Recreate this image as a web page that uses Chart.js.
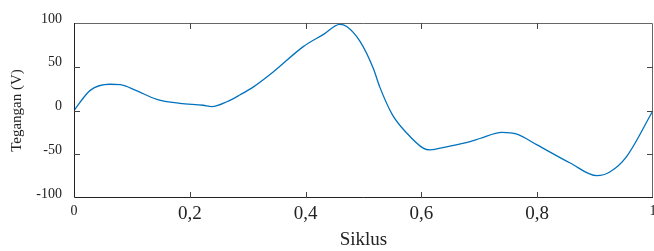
<!DOCTYPE html>
<html>
<head>
<meta charset="utf-8">
<script src="https://cdn.jsdelivr.net/npm/chart.js@4/dist/chart.umd.min.js"></script>
<style>
  html, body { margin: 0; padding: 0; background: #fff; }
  #wrap { width: 654px; height: 251px; }
</style>
</head>
<body>
<div id="wrap"><canvas id="grafik"></canvas></div>
<script>
// Tegangan terhadap siklus
const siklus = [0, 0.028, 0.062, 0.08, 0.108, 0.143, 0.183, 0.223, 0.238, 0.264,
  0.287, 0.31, 0.344, 0.396, 0.431, 0.459, 0.471, 0.494, 0.517, 0.528,
  0.55, 0.575, 0.603, 0.615, 0.643, 0.684, 0.701, 0.739, 0.765, 0.799,
  0.857, 0.903, 0.926, 0.954, 1];
const tegangan = [0, 23, 30, 29.5, 22.6, 12.8, 8.2, 6, 4.5, 10,
  18, 27, 44, 73, 87, 98.5, 96, 79, 48, 27,
  -5, -26, -43, -45, -41.5, -35.5, -32, -25, -27, -39,
  -60, -74.5, -70, -53, 0];
const yTicks = [100, 50, 0, -50, -100];
const xTicks = [0, 0.2, 0.4, 0.6, 0.8, 1];

const FONT = '"Liberation Serif", "Times New Roman", serif';

// bingkai + tick ke dalam
const bingkai = {
  id: 'bingkai',
  afterDraw(chart) {
    const { ctx, chartArea: a, scales } = chart;
    ctx.save();
    ctx.lineWidth = 1;
    ctx.strokeStyle = '#666';
    ctx.beginPath();
    ctx.moveTo(a.left, a.top + 0.5); ctx.lineTo(a.right - 0.5, a.top + 0.5); ctx.lineTo(a.right - 0.5, a.bottom);
    ctx.stroke();
    ctx.strokeStyle = '#222';
    ctx.beginPath();
    ctx.moveTo(a.left + 0.5, a.top); ctx.lineTo(a.left + 0.5, a.bottom - 0.5); ctx.lineTo(a.right, a.bottom - 0.5);
    ctx.stroke();
    const tl = 6;
    ctx.strokeStyle = '#444';
    ctx.beginPath();
    scales.x.ticks.forEach(t => {
      if (t.value <= 0 || t.value >= 1) return;
      const px = Math.round(scales.x.getPixelForValue(t.value)) + 0.5;
      ctx.moveTo(px, a.bottom); ctx.lineTo(px, a.bottom - tl);
      ctx.moveTo(px, a.top); ctx.lineTo(px, a.top + tl);
    });
    scales.y.ticks.forEach(t => {
      if (t.value <= -100 || t.value >= 100) return;
      const py = Math.round(scales.y.getPixelForValue(t.value)) + 0.5;
      ctx.moveTo(a.left, py); ctx.lineTo(a.left + tl, py);
      ctx.moveTo(a.right, py); ctx.lineTo(a.right - tl, py);
    });
    ctx.stroke();
    ctx.restore();
  }
};

new Chart(document.getElementById('grafik'), {
  type: 'line',
  data: {
    datasets: [{
      data: siklus.map((s, i) => ({ x: s, y: tegangan[i] })),
      borderColor: '#0072BD',
      borderWidth: 1.3,
      pointRadius: 0,
      cubicInterpolationMode: 'monotone',
      fill: false
    }]
  },
  options: {
    responsive: true,
    maintainAspectRatio: false,
    animation: false,
    events: [],
    layout: { padding: { top: 23, right: 1, left: 0, bottom: 0 } },
    plugins: { legend: { display: false }, tooltip: { enabled: false } },
    scales: {
      x: {
        type: 'linear',
        min: 0, max: 1,
        grid: { display: false, drawTicks: false },
        border: { display: false },
        afterBuildTicks(s) { s.ticks = xTicks.map(v => ({ value: v })); },
        afterFit(s) { s.height = 53; s.paddingLeft = 0; s.paddingRight = 0; },
        ticks: {
          padding: 5,
          maxRotation: 0,
          color: '#222',
          font: c => (c.tick && (c.tick.value === 0 || c.tick.value === 1))
            ? { family: FONT, size: 14 } : { family: FONT, size: 19 },
          callback: v => (v === 0 || v === 1) ? String(v) : v.toFixed(1).replace('.', ',')
        },
        title: {
          display: true, text: 'Siklus', color: '#222',
          font: { family: FONT, size: 19 }, padding: { top: 0, bottom: 0 }
        }
      },
      y: {
        min: -100, max: 100,
        grid: { display: false, drawTicks: false },
        border: { display: false },
        afterBuildTicks(s) { s.ticks = yTicks.map(v => ({ value: v })); },
        afterFit(s) { s.width = 74; s.paddingTop = 0; s.paddingBottom = 0; },
        ticks: {
          padding: 12,
          labelOffset: -4,
          color: '#222',
          font: { family: FONT, size: 14 }
        },
        title: {
          display: true, text: 'Tegangan (V)', color: '#222',
          font: { family: FONT, size: 15 }, padding: { top: 8, bottom: 0 }
        }
      }
    }
  },
  plugins: [bingkai]
});
</script>
</body>
</html>
